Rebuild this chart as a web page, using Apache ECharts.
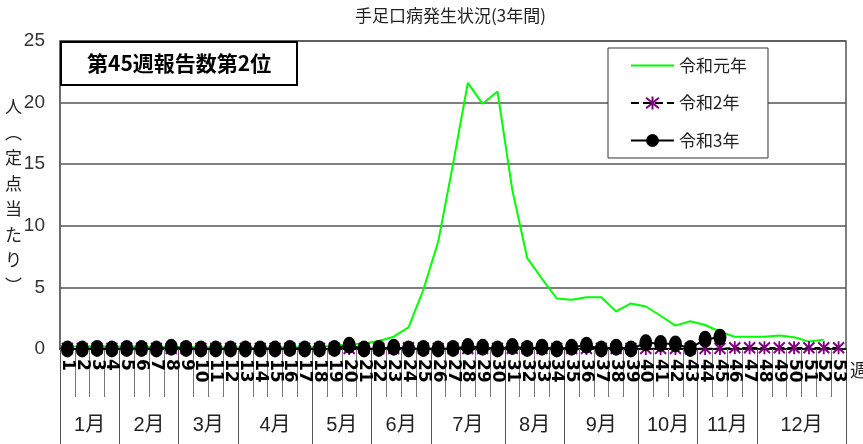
<!DOCTYPE html>
<html><head><meta charset="utf-8">
<script src="https://cdn.jsdelivr.net/npm/echarts@6/dist/echarts.min.js"></script>
<style>html,body{margin:0;padding:0;background:#fff}#c{width:863px;height:444px}</style>
</head><body><div id="c"></div>
<script>
const weeks = ['1','2','3','4','5','6','7','8','9','10','11','12','13','14','15','16','17','18','19','20','21','22','23','24','25','26','27','28','29','30','31','32','33','34','35','36','37','38','39','40','41','42','43','44','45','46','47','48','49','50','51','52','53'];
const r1 = [0.2,0.2,0.25,0.2,0.2,0.2,0.15,0.2,0.15,0.15,0.1,0.15,0.1,0.1,0.1,0.15,0.15,0.15,0.3,0.35,0.45,0.65,1.0,1.75,4.8,8.7,15.0,21.6,19.9,20.9,12.9,7.4,5.7,4.1,4.0,4.2,4.2,3.05,3.7,3.45,2.7,1.9,2.25,1.95,1.4,1.0,1.0,1.0,1.1,0.95,0.6,0.75,null];
const r2 = [0.05,0.05,0.05,0.05,0.05,0.05,0.05,0.05,0.05,0.05,0.05,0.05,0.05,0.05,0.05,0.05,0.05,0.05,0.05,0.05,0.05,0.05,0.05,0.1,0.05,0.05,0.05,0.05,0.05,0.05,0.05,0.05,0.05,0.05,0.05,0.05,0.05,0.05,0.05,0.05,0.05,0.05,0.05,0.05,0.05,0.1,0.1,0.1,0.1,0.1,0.1,0.1,0.1];
const r3 = [0,0,0.05,0,0.05,0.05,0,0.15,0.05,0,0,0,0,0,0,0.05,0,0,0.05,0.3,0,0.05,0.15,0,0.05,0,0.05,0.2,0.15,0,0.2,0.05,0.15,0,0.15,0.3,0,0.15,0,0.5,0.45,0.4,0.05,0.8,0.95];
const months = ['1月','2月','3月','4月','5月','6月','7月','8月','9月','10月','11月','12月'];
const monthWeeks = [4,4,4,5,4,4,5,4,5,4,4,6];
const seriesNames = ['令和元年','令和2年','令和3年'];

// month axis: half-week slots
const slots = new Array(weeks.length * 2 + 1).fill('');
const bounds = new Set([0]);
let b = 0;
months.forEach((m, i) => { slots[2 * b + monthWeeks[i]] = m; b += monthWeeks[i]; bounds.add(2 * b); });

const thin = "'Liberation Sans','Noto Sans CJK JP',sans-serif";
const cjk = "'Noto Sans CJK JP',sans-serif";
const chart = echarts.init(document.getElementById('c'));
chart.setOption({
  backgroundColor: '#fff',
  animation: false,
  title: [
    { text: '手足口病発生状況(3年間)', left: 355, top: 7, padding: 0,
      textStyle: { fontSize: 17, fontWeight: 'normal', color: '#222', fontFamily: cjk } },
    { text: '第45週報告数第2位', left: 61, top: 42, padding: [11, 26, 11, 26],
      backgroundColor: '#fff', borderColor: '#000', borderWidth: 2,
      textStyle: { fontSize: 21, fontWeight: 'bold', color: '#000', fontFamily: cjk } }
  ],
  legend: {
    orient: 'vertical', left: 608, top: 48, padding: [9, 21, 9, 22],
    itemWidth: 43, itemHeight: 16, itemGap: 20.5,
    backgroundColor: '#fff', borderColor: '#333', borderWidth: 1,
    textStyle: { fontSize: 17, color: '#222', fontFamily: cjk },
    data: [
      { name: seriesNames[0], itemStyle: { color: 'rgba(0,0,0,0)', borderWidth: 0, opacity: 0 } },
      { name: seriesNames[1] },
      { name: seriesNames[2] }
    ]
  },
  grid: { left: 60, right: 17, top: 41, bottom: 95, show: true, borderColor: '#555', borderWidth: 1.5, containLabel: false },
  xAxis: [
    { type: 'category', data: weeks, boundaryGap: true, position: 'bottom',
      axisLine: { lineStyle: { color: '#000', width: 1.5 } },
      axisTick: { show: true, interval: 0, length: 48, lineStyle: { color: '#777', width: 1 } },
      axisLabel: { interval: 0, rotate: -90, margin: 10, fontSize: 17, fontWeight: 'bold', color: '#000', fontFamily: "'DejaVu Sans',sans-serif" },
      splitLine: { show: false } },
    { type: 'category', data: slots, boundaryGap: false, position: 'bottom', offset: 0,
      axisLine: { show: false },
      axisTick: { show: true, interval: (i) => bounds.has(i), length: 95, lineStyle: { color: '#555', width: 1 } },
      axisLabel: { interval: (i, v) => v !== '', margin: 66, fontSize: 20, color: '#222', fontFamily: thin },
      splitLine: { show: false } }
  ],
  yAxis: {
    type: 'value', min: 0, max: 25, interval: 5,
    axisLine: { show: true, lineStyle: { color: '#666', width: 1.5 } },
    axisTick: { show: false },
    axisLabel: { margin: 15, fontSize: 19, color: '#333', fontFamily: thin },
    splitLine: { show: true, lineStyle: { color: '#555', width: 1.5 } }
  },
  graphic: [
    { type: 'text', left: 5, top: 94, style: { text: '人\n︵\n定\n点\n当\nた\nり\n︶', lineHeight: 25.5, fill: '#222', font: "17px 'Noto Sans CJK JP'", align: 'center' } },
    { type: 'text', left: 850, top: 361, style: { text: '週', fill: '#222', font: "18px 'Noto Sans CJK JP'" } }
  ],
  series: [
    { name: seriesNames[0], type: 'line', data: r1, symbol: 'none', xAxisIndex: 0,
      lineStyle: { color: '#00ff00', width: 2 }, itemStyle: { color: '#00ff00' } },
    { name: seriesNames[1], type: 'line', data: r2, xAxisIndex: 0, showAllSymbol: true,
      symbol: 'path://M5,0L5,12M0,1L10,11M10,1L0,11', symbolSize: [11, 13],
      lineStyle: { color: '#000', width: 1.5, type: 'dashed' },
      itemStyle: { color: '#800080', borderColor: '#800080', borderWidth: 2 } },
    { name: seriesNames[2], type: 'line', data: r3, xAxisIndex: 0, showAllSymbol: true,
      symbol: 'circle', symbolSize: [13, 17],
      lineStyle: { color: '#000', width: 2 }, itemStyle: { color: '#000' } }
  ]
});
</script></body></html>
